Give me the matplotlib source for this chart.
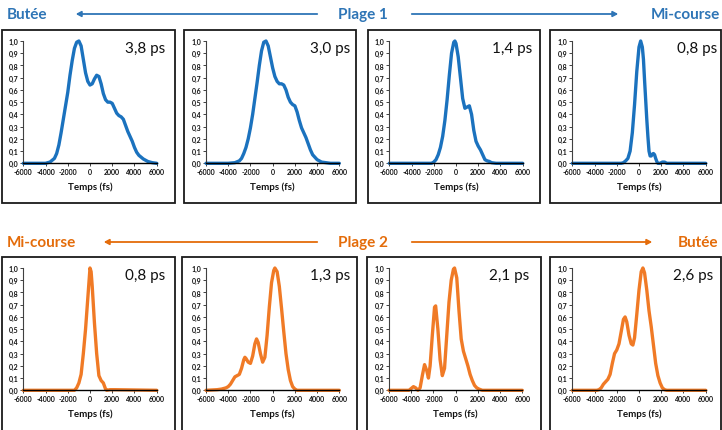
import matplotlib
matplotlib.use("Agg")
import matplotlib.pyplot as plt
from matplotlib.patches import Rectangle, FancyArrowPatch

W, H = 722, 431
BLUE = "#1B72BE"
BLUE_T = "#2E75B6"
ORANGE = "#F07A26"
ORANGE_T = "#E46C0A"

# ---------------- data (time in fs, normalized intensity) ----------------
t_a = [-6000, -4000, -3600, -3200, -3000, -2800, -2600, -2400, -2200, -2000, -1800, -1600, -1400, -1200,
       -1000, -800, -600, -400, -200, 0, 200, 400, 600, 800, 1000, 1200, 1400, 1600, 1800, 2000, 2200,
       2400, 2600, 2800, 3000, 3200, 3400, 3600, 3800, 4000, 4200, 4400, 4600, 4800, 5000, 5200, 5400,
       5600, 6000]
y_a = [0, 0.0, 0.01, 0.04, 0.08, 0.15, 0.25, 0.36, 0.47, 0.58, 0.72, 0.84, 0.94, 0.99,
       1.0, 0.96, 0.85, 0.74, 0.67, 0.64, 0.65, 0.69, 0.72, 0.71, 0.65, 0.57, 0.52, 0.50, 0.50, 0.49, 0.45,
       0.41, 0.39, 0.38, 0.36, 0.31, 0.26, 0.22, 0.18, 0.13, 0.09, 0.065, 0.05, 0.035, 0.025, 0.015, 0.01,
       0.005, 0]

t_b = [-6000, -4000, -3400, -3000, -2800, -2600, -2400, -2200, -2000, -1800, -1600, -1400, -1200, -1000,
       -800, -600, -400, -200, 0, 200, 400, 600, 800, 1000, 1200, 1400, 1600, 1800, 2000, 2200, 2400,
       2600, 2800, 3000, 3200, 3400, 3600, 3800, 4000, 4200, 4400, 4800, 5200, 6000]
y_b = [0, 0.0, 0.005, 0.02, 0.04, 0.08, 0.13, 0.2, 0.29, 0.4, 0.53, 0.66, 0.8, 0.92,
       0.99, 1.0, 0.96, 0.87, 0.78, 0.71, 0.67, 0.65, 0.65, 0.64, 0.6, 0.54, 0.5, 0.48, 0.47, 0.42, 0.35,
       0.29, 0.25, 0.21, 0.16, 0.11, 0.07, 0.05, 0.03, 0.02, 0.01, 0.005, 0.0, 0]

t_c = [-6000, -2200, -2000, -1800, -1600, -1400, -1200, -1000, -800, -600, -400, -200, -100, 0, 200,
       400, 600, 800, 1000, 1200, 1400, 1600, 1800, 2000, 2200, 2400, 2600, 2800, 3000, 3200, 3600, 6000]
y_c = [0, 0, 0.01, 0.03, 0.07, 0.13, 0.22, 0.35, 0.52, 0.72, 0.9, 0.99, 1.0, 0.98, 0.87,
       0.7, 0.53, 0.45, 0.46, 0.47, 0.4, 0.27, 0.18, 0.14, 0.11, 0.07, 0.03, 0.02, 0.015, 0.005, 0, 0]

t_d = [-6000, -1600, -1400, -1200, -1000, -800, -600, -400, -200, 0, 150, 300, 400, 500, 600, 700, 800,
       900, 1000, 1100, 1200, 1300, 1400, 1500, 1600, 1700, 1900, 2100, 2300, 2500, 6000]
y_d = [0, 0, 0.005, 0.02, 0.04, 0.1, 0.25, 0.48, 0.75, 0.95, 1.0, 0.95, 0.85, 0.68, 0.52, 0.36, 0.22,
       0.1, 0.06, 0.06, 0.075, 0.08, 0.07, 0.04, 0.015, 0.0, 0, 0.01, 0.01, 0, 0]

t_e = [-6000, -1400, -1200, -1000, -800, -600, -400, -200, 0, 100, 200, 400, 600, 800, 1000, 1200, 1400,
       1500, 1800, 2200, 6000]
y_e = [0, 0, 0.02, 0.06, 0.13, 0.3, 0.5, 0.75, 1.0, 0.97, 0.85, 0.55, 0.3, 0.12, 0.08, 0.06, 0.01,
       0, 0.005, 0.005, 0]

t_f = [-6000, -5000, -4600, -4200, -4000, -3800, -3600, -3400, -3200, -3000, -2800, -2600, -2500, -2400,
       -2200, -2000, -1800, -1600, -1450, -1300, -1100, -900, -700, -500, -300, -100, 100, 200, 400, 600,
       800, 1000, 1200, 1400, 1600, 1800, 2000, 2200, 6000]
y_f = [0, 0.005, 0.01, 0.02, 0.03, 0.05, 0.08, 0.11, 0.12, 0.13, 0.18, 0.25, 0.27, 0.26,
       0.23, 0.22, 0.28, 0.38, 0.42, 0.39, 0.3, 0.23, 0.27, 0.45, 0.68, 0.88, 0.98, 1.0, 0.97, 0.85,
       0.67, 0.48, 0.3, 0.17, 0.08, 0.03, 0.01, 0, 0]

t_g = [-6000, -4200, -4000, -3800, -3600, -3400, -3200, -3000, -2800, -2600, -2450, -2300, -2100, -1900,
       -1800, -1600, -1400, -1200, -1000, -800, -600, -400, -200, -100, 100, 300, 500, 700, 900, 1100,
       1300, 1500, 1700, 1900, 2100, 2400, 6000]
y_g = [0, 0, 0.015, 0.03, 0.02, 0.0, 0.02, 0.12, 0.21, 0.16, 0.1, 0.2, 0.45, 0.68,
       0.69, 0.5, 0.25, 0.12, 0.18, 0.45, 0.72, 0.9, 0.99, 1.0, 0.92, 0.65, 0.42, 0.32, 0.26, 0.2,
       0.13, 0.08, 0.04, 0.02, 0.01, 0, 0]

t_h = [-6000, -3800, -3600, -3400, -3200, -3000, -2800, -2600, -2400, -2200, -2000, -1800, -1600, -1400,
       -1250, -1100, -900, -700, -550, -400, -200, 0, 200, 350, 500, 700, 900, 1100, 1300, 1500, 1700,
       1900, 2100, 2300, 2500, 6000]
y_h = [0, 0, 0.005, 0.02, 0.05, 0.07, 0.09, 0.13, 0.22, 0.3, 0.33, 0.38, 0.48, 0.58,
       0.6, 0.56, 0.45, 0.38, 0.37, 0.43, 0.62, 0.82, 0.97, 1.0, 0.96, 0.82, 0.65, 0.52, 0.37, 0.22, 0.12,
       0.06, 0.02, 0.005, 0, 0]

top_labels = ["3,8 ps", "3,0 ps", "1,4 ps", "0,8 ps"]
bot_labels = ["0,8 ps", "1,3 ps", "2,1 ps", "2,6 ps"]
top_series = [(t_a, y_a), (t_b, y_b), (t_c, y_c), (t_d, y_d)]
bot_series = [(t_e, y_e), (t_f, y_f), (t_g, y_g), (t_h, y_h)]
x_ticks = [-6000, -4000, -2000, 0, 2000, 4000, 6000]
y_ticks = [0.0, 0.1, 0.2, 0.3, 0.4, 0.5, 0.6, 0.7, 0.8, 0.9, 1.0]

# ---------------- layout (pixels) ----------------
FONT = "Lato"
fig = plt.figure(figsize=(W / 100, H / 100), dpi=100)
fig.patch.set_facecolor("white")


def fx(x):
    return x / W


def fy(y):
    return 1 - y / H


top_boxes = [(2, 31, 175, 204), (184, 31, 356, 204), (368, 31, 540, 204), (550, 31, 721, 204)]
bot_boxes = [(2, 258, 175, 432), (182, 258, 357, 432), (367, 258, 541, 432), (550, 258, 721, 432)]
top_axes = [(23.3, 156.7), (206, 339.3), (389.3, 522.7), (572.3, 705.7)]
bot_axes = [(23.3, 156.7), (206, 339.3), (389, 522.3), (572.3, 705.7)]
top_ann = [(165, 49), (350, 49), (532, 49), (717, 49)]
bot_ann = [(165, 276), (350, 276), (529, 276), (713, 276)]


def draw_row(boxes, axes_x, ytop, ybot, series, labels, ann, color, xlabel_y):
    for box, (x0, x1), (t, y), lab, (ax_, ay_) in zip(boxes, axes_x, series, labels, ann):
        bx0, by0, bx1, by1 = box
        fig.add_artist(Rectangle((fx(bx0), fy(by1)), (bx1 - bx0) / W, (by1 - by0) / H,
                                 transform=fig.transFigure, fill=False, edgecolor="#1a1a1a",
                                 linewidth=1.3, zorder=0))
        ax = fig.add_axes([fx(x0), fy(ybot), (x1 - x0) / W, (ybot - ytop) / H])
        ax.plot(t, y, color=color, linewidth=2.4, solid_joinstyle="round", solid_capstyle="round",
                clip_on=False)
        ax.set_xlim(-6000, 6000)
        ax.set_ylim(0, 1.0)
        ax.set_xticks(x_ticks)
        ax.set_xticklabels([str(v) for v in x_ticks])
        ax.set_yticks(y_ticks)
        ax.set_yticklabels([f"{v:.1f}".replace(".", ",") for v in y_ticks])
        for s in ["top", "right"]:
            ax.spines[s].set_visible(False)
        ax.spines["left"].set_color("#404040")
        ax.spines["left"].set_linewidth(0.8)
        ax.spines["bottom"].set_color("#000000")
        ax.spines["bottom"].set_linewidth(1.0)
        ax.tick_params(axis="both", length=2, width=0.7, pad=1.5, labelsize=5.0, color="#404040")
        for tl in ax.get_xticklabels() + ax.get_yticklabels():
            tl.set_fontweight("bold")
            tl.set_fontfamily(FONT)
            tl.set_color("#111111")
        ax.patch.set_alpha(0)
        fig.text(fx((x0 + x1) / 2), fy(xlabel_y), "Temps (fs)", ha="center", va="center",
                 fontsize=7, fontweight="bold", family=FONT, color="#111111")
        fig.text(fx(ax_), fy(ay_), lab, ha="right", va="center", fontsize=11, family=FONT,
                 color="#111111")


draw_row(top_boxes, top_axes, 42, 164.3, top_series, top_labels, top_ann, BLUE, 187)
draw_row(bot_boxes, bot_axes, 269, 391.3, bot_series, bot_labels, bot_ann, ORANGE, 414)

# ---------------- headers ----------------
hdr = dict(fontsize=11, fontweight="bold", family=FONT, va="center")
fig.text(fx(7), fy(15), "Butée", ha="left", color=BLUE_T, **hdr)
fig.text(fx(363), fy(15), "Plage 1", ha="center", color=BLUE_T, **hdr)
fig.text(fx(720), fy(15), "Mi-course", ha="right", color=BLUE_T, **hdr)
fig.add_artist(FancyArrowPatch((fx(320), fy(15)), (fx(73), fy(15)), transform=fig.transFigure,
                               arrowstyle="-|>,head_length=3,head_width=1.6", color=BLUE_T, lw=1.3))
fig.add_artist(FancyArrowPatch((fx(409), fy(15)), (fx(621), fy(15)), transform=fig.transFigure,
                               arrowstyle="-|>,head_length=3,head_width=1.6", color=BLUE_T, lw=1.3))

fig.text(fx(7), fy(243), "Mi-course", ha="left", color=ORANGE_T, **hdr)
fig.text(fx(363), fy(243), "Plage 2", ha="center", color=ORANGE_T, **hdr)
fig.text(fx(718), fy(243), "Butée", ha="right", color=ORANGE_T, **hdr)
fig.add_artist(FancyArrowPatch((fx(320), fy(243)), (fx(101), fy(243)), transform=fig.transFigure,
                               arrowstyle="-|>,head_length=3,head_width=1.6", color=ORANGE_T, lw=1.3))
fig.add_artist(FancyArrowPatch((fx(409), fy(243)), (fx(655), fy(243)), transform=fig.transFigure,
                               arrowstyle="-|>,head_length=3,head_width=1.6", color=ORANGE_T, lw=1.3))

fig.savefig("out.png", dpi=100)
